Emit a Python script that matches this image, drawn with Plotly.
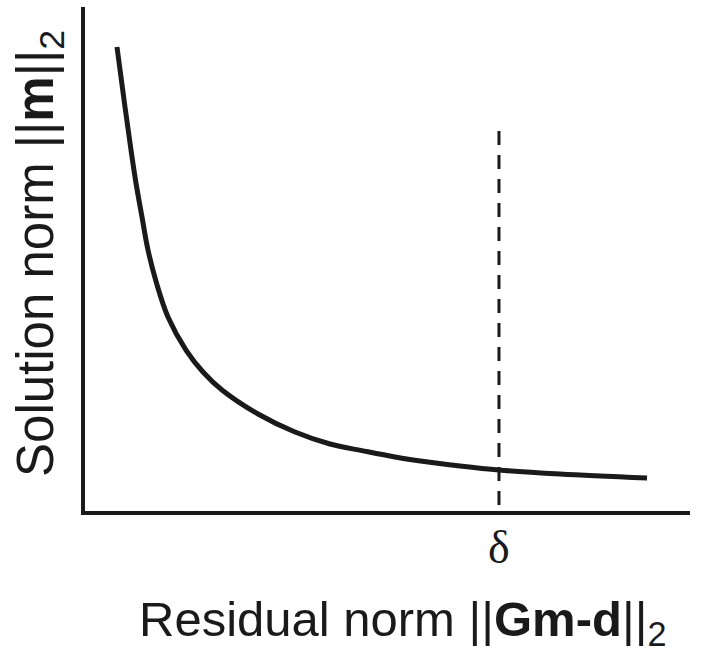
import plotly.graph_objects as go

# L-curve: residual norm vs. solution norm (arbitrary units)
residual_norm = [0.560, 0.692, 0.791, 0.873, 0.972, 1.071, 1.211, 1.400, 1.697,
                 1.977, 2.290, 2.883, 3.493, 4.069, 4.596, 5.140, 5.684, 6.211,
                 6.853, 7.858, 9.292]
solution_norm = [9.209, 8.024, 7.174, 6.522, 5.850, 5.198, 4.545, 3.874, 3.221,
                 2.787, 2.431, 1.957, 1.601, 1.364, 1.233, 1.107, 1.008, 0.929,
                 0.850, 0.771, 0.692]

# Discrepancy level delta and the extent of its marker line
delta_x = [6.853, 6.853]
delta_y = [7.55, 0.0]
delta_label = "δ"

x_title = "Residual norm ||<b>Gm-d</b>||<sub>2</sub>"
y_title = "Solution norm ||<b>m</b>||<sub>2</sub>"

W, H = 705, 656
ML, MR, MT, MB = 85, 15, 7, 145
plot_w = W - ML - MR
plot_h = H - MT - MB


def px_to_paper_x(px):
    return (px - ML) / plot_w


def px_to_paper_y(py):
    return (H - MB - py) / plot_h


ink = "#1a1a1a"
sans = "Liberation Sans, Arial"

fig = go.Figure()

fig.add_trace(go.Scatter(
    x=delta_x, y=delta_y, mode="lines",
    line=dict(color=ink, width=3, dash="14px,10px"),
    hoverinfo="skip", showlegend=False,
))

fig.add_trace(go.Scatter(
    x=residual_norm, y=solution_norm, mode="lines",
    line=dict(color=ink, width=5, shape="spline", smoothing=1.0),
    showlegend=False,
))

fig.add_annotation(
    x=delta_x[0], y=px_to_paper_y(547), xref="x", yref="paper",
    xanchor="center", yanchor="middle",
    text=delta_label, showarrow=False,
    font=dict(family="Liberation Serif", size=46, color=ink),
)

fig.add_annotation(
    x=px_to_paper_x(402), y=px_to_paper_y(622), xref="paper", yref="paper",
    xanchor="center", yanchor="middle",
    text=x_title, showarrow=False,
    font=dict(family=sans, size=49, color=ink),
)

fig.add_annotation(
    x=px_to_paper_x(39), y=px_to_paper_y(254), xref="paper", yref="paper",
    xanchor="center", yanchor="middle", textangle=-90,
    text=y_title, showarrow=False,
    font=dict(family=sans, size=51, color=ink),
)

fig.update_layout(
    width=W, height=H,
    margin=dict(l=ML, r=MR, t=MT, b=MB),
    paper_bgcolor="white", plot_bgcolor="white",
    xaxis=dict(range=[0.033, 10.0], showline=True, linewidth=4, linecolor=ink,
               showgrid=False, zeroline=False, showticklabels=False, ticks=""),
    yaxis=dict(range=[0.04, 10.0], showline=True, linewidth=4, linecolor=ink,
               showgrid=False, zeroline=False, showticklabels=False, ticks=""),
)

fig.write_html("out.html")
